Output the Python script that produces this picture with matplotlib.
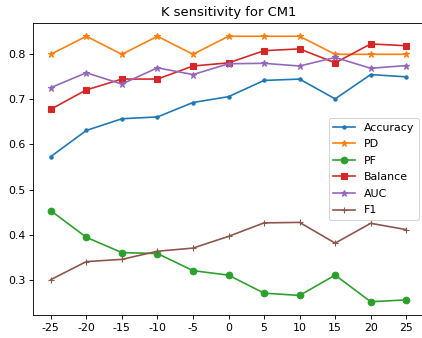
import matplotlib
matplotlib.use("Agg")
import matplotlib.pyplot as plt

k_values = [-25, -20, -15, -10, -5, 0, 5, 10, 15, 20, 25]
tick_labels = ["-25", "-20", "-15", "-10", "-5", "0", "5", "10", "15", "20", "25"]

accuracy = [0.573, 0.631, 0.657, 0.661, 0.693, 0.706, 0.742, 0.745, 0.701, 0.755, 0.750]
pd_vals = [0.80, 0.84, 0.80, 0.84, 0.80, 0.84, 0.84, 0.84, 0.80, 0.80, 0.80]
pf_vals = [0.453, 0.394, 0.360, 0.358, 0.320, 0.310, 0.270, 0.265, 0.310, 0.251, 0.255]
balance = [0.678, 0.721, 0.745, 0.745, 0.774, 0.781, 0.808, 0.812, 0.781, 0.823, 0.819]
auc = [0.726, 0.759, 0.734, 0.770, 0.755, 0.779, 0.780, 0.774, 0.793, 0.769, 0.775]
f1 = [0.300, 0.340, 0.345, 0.363, 0.370, 0.396, 0.426, 0.427, 0.381, 0.425, 0.411]

dpi = 79
fig = plt.figure(figsize=(422 / dpi, 338 / dpi), dpi=dpi)
# right spine sits just past the image edge, like the cropped original
ax = fig.add_axes([33 / 422, 1 - 315 / 338, 391 / 422, 292 / 338])

ax.plot(k_values, accuracy, marker=".", label="Accuracy")
ax.plot(k_values, pd_vals, marker="*", label="PD")
ax.plot(k_values, pf_vals, marker="o", label="PF")
ax.plot(k_values, balance, marker="s", label="Balance")
ax.plot(k_values, auc, marker="*", label="AUC")
ax.plot(k_values, f1, marker="+", label="F1")

ax.set_xticks(k_values)
ax.set_xticklabels(tick_labels)
ax.set_title("K sensitivity for CM1")
ax.legend(loc="center right", labelspacing=0.6)

fig.savefig("out.png", dpi=dpi)
